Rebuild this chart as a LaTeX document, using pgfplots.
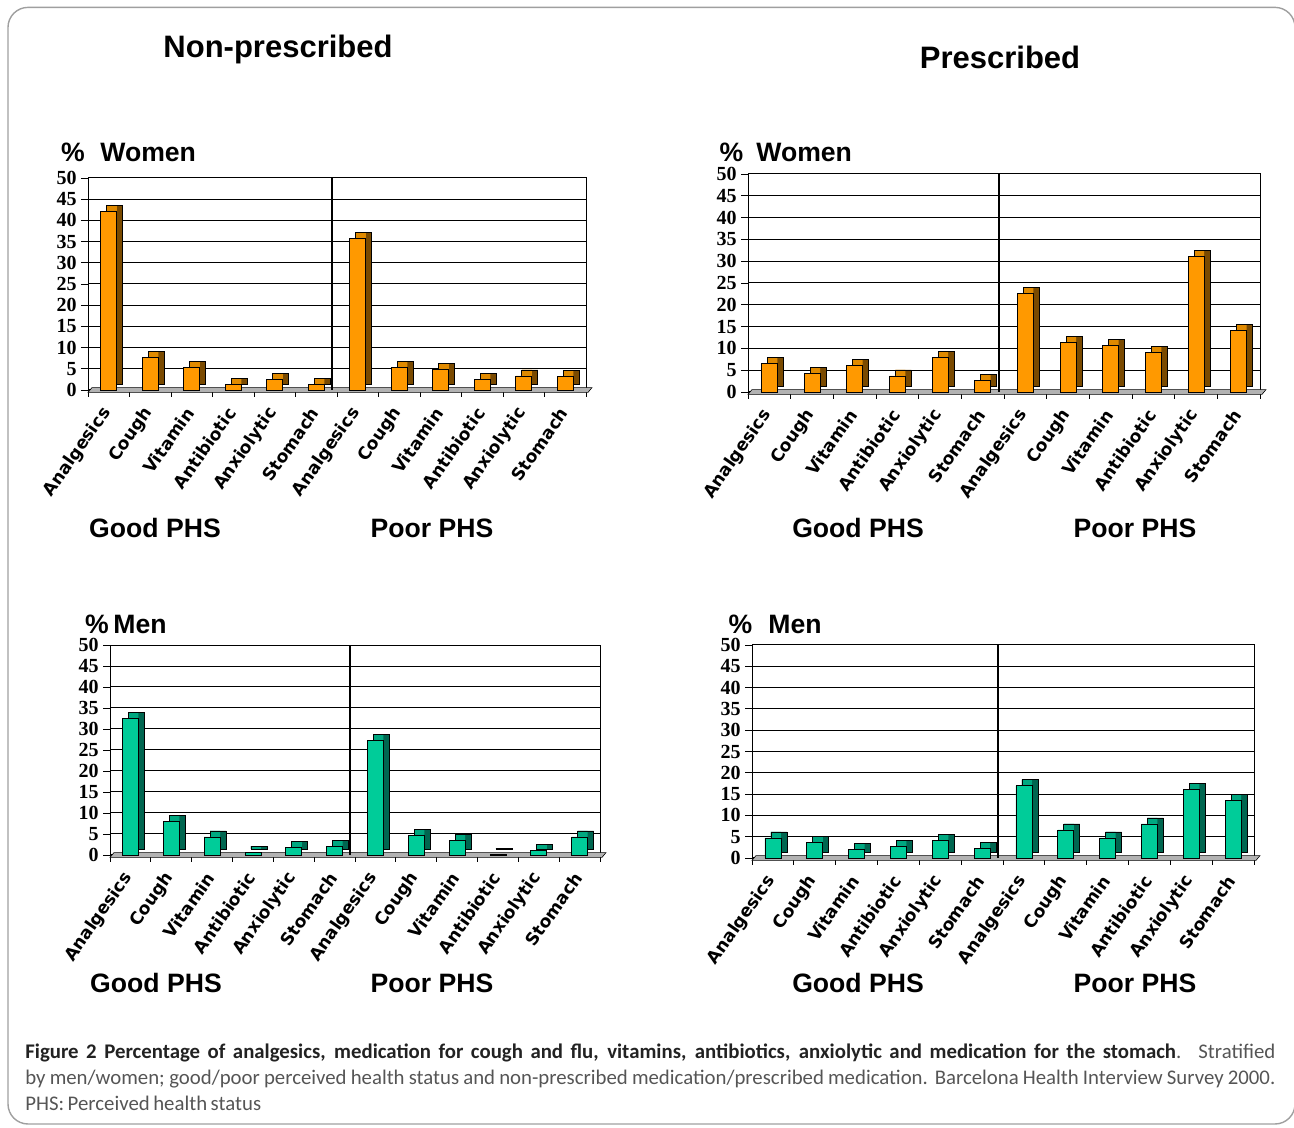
\documentclass[border=0pt]{standalone}
\usepackage{fontspec}
\setmainfont{Liberation Sans}
\newfontfamily\tnr{Liberation Serif}
\newfontfamily\verd{DejaVu Sans}
\newfontfamily\capf{Carlito}[WordSpace=0.75]
\usepackage{pgfplots}
\usepackage{pgfplotstable}
\pgfplotsset{compat=1.18}

\definecolor{ofront}{HTML}{FF9900}
\definecolor{oside}{HTML}{7A4A00}
\definecolor{otop}{HTML}{E08A00}
\definecolor{gfront}{HTML}{00CC99}
\definecolor{gside}{HTML}{006650}
\definecolor{gtop}{HTML}{00A880}
\definecolor{capdark}{HTML}{222222}
\definecolor{capgray}{HTML}{555555}

\pgfplotstableread{
i v
0 42.2
1 7.7
2 5.3
3 1.3
4 2.5
5 1.3
6 35.8
7 5.3
8 4.9
9 2.5
10 3.3
11 3.2
}\npw
\pgfplotstableread{
i v
0 6.5
1 4.3
2 6.0
3 3.7
4 7.9
5 2.7
6 22.6
7 11.3
8 10.7
9 9.1
10 31.1
11 14.1
}\pw
\pgfplotstableread{
i v
0 32.5
1 8.0
2 4.3
3 0.7
4 1.8
5 2.0
6 27.2
7 4.7
8 3.5
9 0.1
10 1.1
11 4.3
}\npm
\pgfplotstableread{
i v
0 4.7
1 3.6
2 2.1
3 2.8
4 4.2
5 2.3
6 17.0
7 6.6
8 4.7
9 8.0
10 16.1
11 13.5
}\pm

\pgfplotsset{
  panel/.style={
    ybar, scale only axis, anchor=south west,
    xmin=-0.5, xmax=11.5, ymin=0, ymax=50,
    ytick={0,5,...,50},
    ymajorgrids, major grid style={black, line width=0.5pt},
    xtick={-0.5,0.5,...,11.5}, xticklabels={},
    extra x ticks={0,...,11},
    extra x tick labels={Analgesics,Cough,Vitamin,Antibiotic,Anxiolytic,Stomach,Analgesics,Cough,Vitamin,Antibiotic,Anxiolytic,Stomach},
    extra x tick style={tick style={draw=none}},
    x tick label style={rotate=55, anchor=east, font=\verd\bfseries\fontsize{8.6}{8.6}\selectfont, inner sep=1pt, yshift=-3pt, xshift=-4.5pt},
    y tick label style={font=\tnr\bfseries\fontsize{10}{10}\selectfont, inner sep=2pt},
    /pgf/number format/assume math mode=true,
    tick pos=left,
    tick align=outside, major tick length=3.5pt,
    tick style={black, line width=0.4pt},
    axis line style={black, line width=0.5pt},
    clip=false,
  },
}

\newcommand{\bars}[4]{%
  \fill[gray!60, draw=black, line width=0.3pt] ([yshift=-1.2pt]rel axis cs:0,0) -- ([xshift=2pt,yshift=1.2pt]rel axis cs:0,0) -- ([xshift=3pt,yshift=1.2pt]rel axis cs:1,0) -- ([xshift=1pt,yshift=-1.2pt]rel axis cs:1,0) -- cycle;
  \addplot[bar width=8pt, bar shift=3pt, yshift=3pt, fill=#3, draw=none] table[x=i,y=v]{#1};
  \addplot[bar width=5pt, bar shift=1.5pt, yshift=3pt, fill=#4, draw=none] table[x=i,y=v]{#1};
  \addplot[bar width=8pt, bar shift=3pt, yshift=3pt, fill=none, draw=black, line width=0.35pt] table[x=i,y=v]{#1};
  \addplot[bar width=8pt, bar shift=0pt, fill=#2, draw=black, line width=0.35pt] table[x=i,y=v]{#1};
  \draw[black, line width=1pt] ([xshift=-2.5pt]axis cs:5.5,0) -- ([xshift=-2.5pt]axis cs:5.5,50);
}

\begin{document}
\begin{tikzpicture}
\useasboundingbox (0,0) rectangle (647pt,564pt);
\draw[gray!75, line width=0.7pt, rounded corners=10pt] (4pt,2pt) rectangle (647.5pt,560.3pt);

\begin{axis}[panel, at={(44pt,369pt)}, width=249pt, height=106pt]
\bars{\npw}{ofront}{oside}{otop}
\end{axis}
\begin{axis}[panel, at={(374pt,368pt)}, width=256pt, height=109pt]
\bars{\pw}{ofront}{oside}{otop}
\end{axis}
\begin{axis}[panel, at={(55pt,136.5pt)}, width=245pt, height=105pt]
\bars{\npm}{gfront}{gside}{gtop}
\end{axis}
\begin{axis}[panel, at={(376pt,135pt)}, width=251pt, height=106.5pt]
\bars{\pm}{gfront}{gside}{gtop}
\end{axis}

\tikzset{ttl/.style={font=\bfseries\fontsize{15.5}{15.5}\selectfont, inner sep=0pt},
         hdr/.style={font=\bfseries\fontsize{13.3}{13.3}\selectfont, inner sep=0pt}}
\node[ttl] at (139pt,539pt) {Non-prescribed};
\node[ttl] at (500pt,535.5pt) {Prescribed};

\node[hdr, anchor=base] at (36.5pt,483pt) {\%};
\node[hdr, anchor=base west] at (50pt,483pt) {Women};
\node[hdr, anchor=base] at (365.75pt,483pt) {\%};
\node[hdr, anchor=base west] at (378pt,483pt) {Women};
\node[hdr, anchor=base] at (48.5pt,247pt) {\%};
\node[hdr, anchor=base west] at (56.5pt,247pt) {Men};
\node[hdr, anchor=base] at (370.25pt,247pt) {\%};
\node[hdr, anchor=base west] at (384pt,247pt) {Men};

\node[hdr, anchor=base] at (77.5pt,295.25pt) {Good PHS};
\node[hdr, anchor=base] at (216pt,295.25pt) {Poor PHS};
\node[hdr, anchor=base] at (429pt,295.25pt) {Good PHS};
\node[hdr, anchor=base] at (567.5pt,295.25pt) {Poor PHS};
\node[hdr, anchor=base] at (78pt,67.75pt) {Good PHS};
\node[hdr, anchor=base] at (216pt,67.75pt) {Poor PHS};
\node[hdr, anchor=base] at (429pt,67.75pt) {Good PHS};
\node[hdr, anchor=base] at (567.5pt,67.75pt) {Poor PHS};

\node[anchor=north west, inner sep=0pt, text width=625pt, align=justify,
      font=\capf\fontsize{10.4}{13}\selectfont, text=capgray] at (12.5pt,42.5pt)
{{\color{capdark}\bfseries Figure 2 Percentage of analgesics, medication for cough and flu, vitamins, antibiotics, anxiolytic and medication for the stomach}. Stratified\linebreak by men/women; good/poor perceived health status and non-prescribed medication/prescribed medication. Barcelona Health Interview Survey 2000.\linebreak PHS: Perceived health status};
\end{tikzpicture}
\end{document}
